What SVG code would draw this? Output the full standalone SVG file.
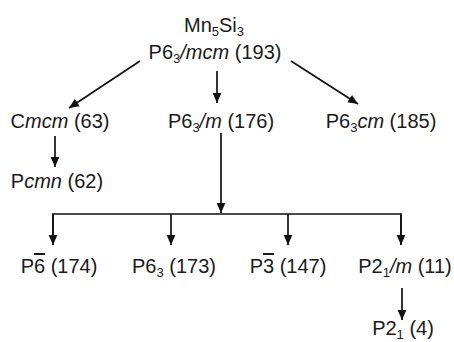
<svg xmlns="http://www.w3.org/2000/svg" width="454" height="342" viewBox="0 0 454 342">
<style>
text{font-family:"Liberation Sans",Arial,sans-serif;font-size:20px;fill:#1a1a1a;text-anchor:middle}
.i{font-style:italic}
.s{font-size:13px}
.o{text-decoration:overline}
.c{stroke:#111;stroke-width:1.7;fill:none}
</style>
<defs>
<marker id="ah" markerUnits="userSpaceOnUse" markerWidth="10" markerHeight="10" viewBox="0 0 10 10" refX="10" refY="5" orient="auto">
<path d="M0,0.6 L10,5 L0,9.4 Z" fill="#111"/>
</marker>
</defs>
<rect width="454" height="342" fill="#fff"/>
<g id="connectors">
<line class="c" x1="140" y1="61" x2="69" y2="108" marker-end="url(#ah)"/>
<line class="c" x1="217" y1="71" x2="217" y2="103" marker-end="url(#ah)"/>
<line class="c" x1="291" y1="61" x2="358" y2="104" marker-end="url(#ah)"/>
<line class="c" x1="55" y1="136" x2="55" y2="167" marker-end="url(#ah)"/>
<line class="c" x1="221" y1="133" x2="221" y2="213" marker-end="url(#ah)"/>
<path class="c" d="M53,245 V214 H401 V245" stroke-linejoin="miter"/>
<line class="c" x1="53" y1="214" x2="53" y2="245" marker-end="url(#ah)"/>
<line class="c" x1="171" y1="214" x2="171" y2="245" marker-end="url(#ah)"/>
<line class="c" x1="288" y1="214" x2="288" y2="245" marker-end="url(#ah)"/>
<line class="c" x1="401" y1="214" x2="401" y2="245" marker-end="url(#ah)"/>
<line class="c" x1="402" y1="288" x2="402" y2="320" marker-end="url(#ah)"/>
</g>
<g id="n193">
<text x="214" y="32">Mn<tspan class="s" dy="4">5</tspan><tspan dy="-4">Si</tspan><tspan class="s" dy="4">3</tspan></text>
<text x="215" y="59">P6<tspan class="s" dy="4">3</tspan><tspan class="i" dy="-4">/mcm</tspan> (193)</text>
</g>
<g id="n63"><text x="60" y="128">C<tspan class="i">mcm</tspan> (63)</text></g>
<g id="n176"><text x="221" y="128">P6<tspan class="s" dy="4">3</tspan><tspan class="i" dy="-4">/m</tspan> (176)</text></g>
<g id="n185"><text x="381" y="128">P6<tspan class="s" dy="4">3</tspan><tspan class="i" dy="-4">cm</tspan> (185)</text></g>
<g id="n62"><text x="57" y="188">P<tspan class="i">cmn</tspan> (62)</text></g>
<g id="n174"><text x="59" y="273">P<tspan class="o">6</tspan> (174)</text></g>
<g id="n173"><text x="174" y="273">P6<tspan class="s" dy="4">3</tspan><tspan dy="-4"> (173)</tspan></text></g>
<g id="n147"><text x="288" y="273">P<tspan class="o">3</tspan> (147)</text></g>
<g id="n11"><text x="405" y="273">P2<tspan class="s" dy="4">1</tspan><tspan class="i" dy="-4">/m</tspan> (11)</text></g>
<g id="n4"><text x="403" y="335">P2<tspan class="s" dy="4">1</tspan><tspan dy="-4"> (4)</tspan></text></g>
</svg>
